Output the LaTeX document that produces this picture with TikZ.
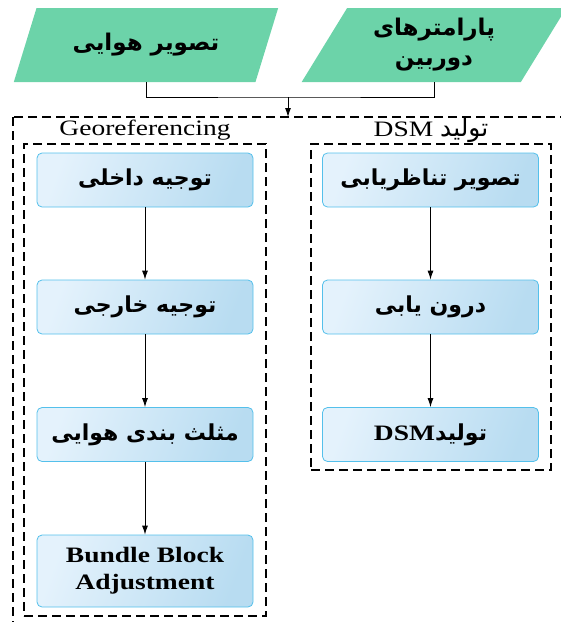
\documentclass[tikz,border=0pt]{standalone}
\usepackage{fontspec}
\setmainfont{Liberation Serif}[FakeStretch=1.25]
\newfontfamily\fa[Script=Arabic]{DejaVu Sans}
\TeXXeTstate=1
\usetikzlibrary{arrows, arrows.meta, shapes, backgrounds}
\definecolor{paramgreen}{RGB}{108,211,169}
\definecolor{boxedge}{RGB}{84,192,235}
\definecolor{boxlight}{RGB}{228,242,252}
\definecolor{boxdark}{RGB}{184,220,241}
\newcommand{\fatext}[1]{{\fa\bfseries\beginR #1\endR}}

\begin{document}
\begin{tikzpicture}[x=1pt, y=-1pt, line width=0.9pt, >={Latex[length=9pt, width=6pt]}]
	\useasboundingbox (0,0) rectangle (561,622);
	\clip (0,0) rectangle (561,622);
	\tikzstyle{every node} = [inner sep=2pt]
	\tikzstyle{input} = [trapezium, trapezium left angle=60, trapezium right angle=120, trapezium stretches=true, minimum width=265pt, minimum height=74pt, fill=paramgreen, align=center, font=\fontsize{23}{30}\selectfont]
	\tikzstyle{stepbox} = [rectangle, rounded corners=5pt, draw=boxedge, line width=0.8pt, left color=boxlight, right color=boxdark, shading angle=70, minimum width=216pt, minimum height=54pt, align=center, font=\fontsize{22}{27}\selectfont\bfseries]
	\tikzstyle{group} = [draw, dash pattern=on 9pt off 5pt, line width=1.1pt]
	\tikzstyle{title} = [font=\fontsize{22}{26}\selectfont]
	% inputs
	\node[input] (img) at (146,45) {\fatext{تصویر هوایی}};
	\node[input] (cam) at (434,45) {\fatext{پارامترهای}\\\fatext{دوربین}};
	\coordinate (join) at (288,97);
	\coordinate (entry) at (288,117);
	\draw (img.south) |- (join) -| (cam.south);
	\draw [->] (join)--(entry);
	\draw [group] (13,117) rectangle (640,720);
	% groups
	\node[group, minimum width=242pt, minimum height=472pt] (geo) at (145,380) {};
	\node[group, minimum width=240pt, minimum height=326pt] (gen) at (431,307) {};
	\node[title] (geolabel) at (145,130) {Georeferencing};
	\node[title] (genlabel) at (431,130) {DSM {\fontsize{25}{28}\fa\beginR تولید\endR}};
	% steps
	\node[stepbox] (io) at (145,180) {\fatext{توجیه داخلی}};
	\node[stepbox] (eo) at (145,307) {\fatext{توجیه خارجی}};
	\node[stepbox] (at) at (145,434.5) {\fatext{مثلث بندی هوایی}};
	\node[stepbox, minimum height=72pt] (bba) at (145,571) {Bundle Block\\Adjustment};
	\node[stepbox] (match) at (430.5,180) {\fatext{تصویر تناظریابی}};
	\node[stepbox] (dense) at (430.5,307) {\fatext{درون یابی}};
	\node[stepbox] (dsm) at (430.5,434.5) {DSM\fatext{تولید}};
	\draw [->] (io)--(eo);
	\draw [->] (eo)--(at);
	\draw [->] (at)--(bba);
	\draw [->] (match)--(dense);
	\draw [->] (dense)--(dsm);
\end{tikzpicture}
\end{document}
